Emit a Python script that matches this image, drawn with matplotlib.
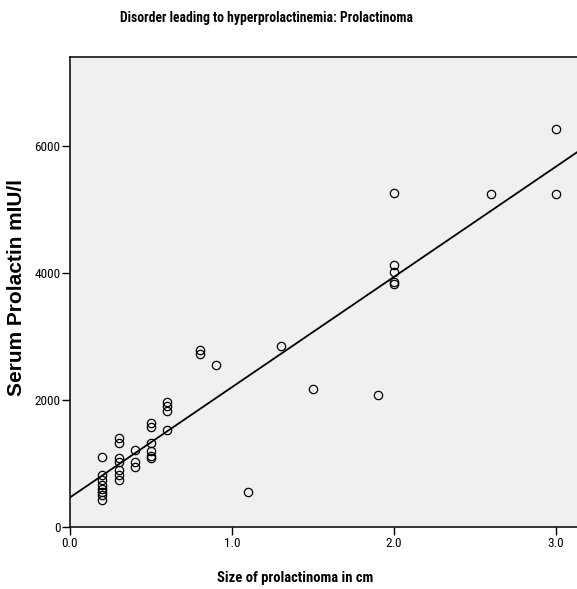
import matplotlib
matplotlib.use("Agg")
import matplotlib.pyplot as plt
import numpy as np

# size of prolactinoma (cm) and serum prolactin (mIU/l)
size_cm = [0.2, 0.2, 0.2, 0.2, 0.2, 0.2, 0.2, 0.2,
           0.3, 0.3, 0.3, 0.3, 0.3, 0.3, 0.3,
           0.4, 0.4, 0.4,
           0.5, 0.5, 0.5, 0.5, 0.5, 0.5,
           0.6, 0.6, 0.6, 0.6,
           0.8, 0.8, 0.9, 1.1, 1.3, 1.5, 1.9,
           2.0, 2.0, 2.0, 2.0, 2.0,
           2.6, 3.0, 3.0]
prolactin = [1100, 820, 740, 660, 600, 550, 500, 420,
             1400, 1330, 1080, 1020, 900, 820, 740,
             1220, 1020, 950,
             1630, 1580, 1320, 1200, 1120, 1090,
             1970, 1900, 1820, 1530,
             2790, 2730, 2550, 550, 2850, 2170, 2080,
             5260, 4130, 4020, 3850, 3830,
             5250, 6270, 5250]

x_ticks = [0.0, 1.0, 2.0, 3.0]
x_tick_labels = ["0.0", "1.0", "2.0", "3.0"]
y_ticks = [0, 2000, 4000, 6000]

narrow = ["Roboto Condensed", "DejaVu Sans"]

fig = plt.figure(figsize=(5.77, 5.89), dpi=100)
ax = fig.add_axes([70 / 577, 1 - 527 / 589, 1 - 70 / 577, (527 - 57) / 589])
ax.set_facecolor("#f0f0f0")

ax.plot(size_cm, prolactin, linestyle="none", marker="o", markersize=6,
        markerfacecolor="none", markeredgecolor="black", markeredgewidth=0.9)

# linear fit line
slope, intercept = np.polyfit(size_cm, prolactin, 1)
xs = np.array([0.0, 3.2])
ax.plot(xs, intercept + slope * xs, color="black", linewidth=1.3)

ax.set_xlim(0, 3.13)
ax.set_ylim(0, 7400)
ax.set_xticks(x_ticks)
ax.set_xticklabels(x_tick_labels, family=narrow, fontsize=9.5)
ax.set_yticks(y_ticks)
ax.set_yticklabels([str(v) for v in y_ticks], family=narrow, fontsize=9.5)
ax.tick_params(direction="out", length=6, width=1, color="black", pad=1)
for side in ["left", "bottom", "top"]:
    ax.spines[side].set_linewidth(1.1)
ax.spines["right"].set_visible(False)

fig.text(295 / 577, 1 - 578 / 589, "Size of prolactinoma in cm", family=narrow,
         fontweight="bold", fontsize=10.5, ha="center", va="center")
fig.text(17 / 577, 1 - 288 / 589, "Serum Prolactin mIU/l", rotation=90,
         family=["Liberation Sans", "DejaVu Sans"], fontweight="bold", fontsize=15,
         ha="center", va="center")
fig.text(266 / 577, 1 - 18 / 589, "Disorder leading to hyperprolactinemia: Prolactinoma",
         family=narrow, fontweight="bold", fontsize=9.8, ha="center", va="center")

fig.savefig("out.png", dpi=100)
